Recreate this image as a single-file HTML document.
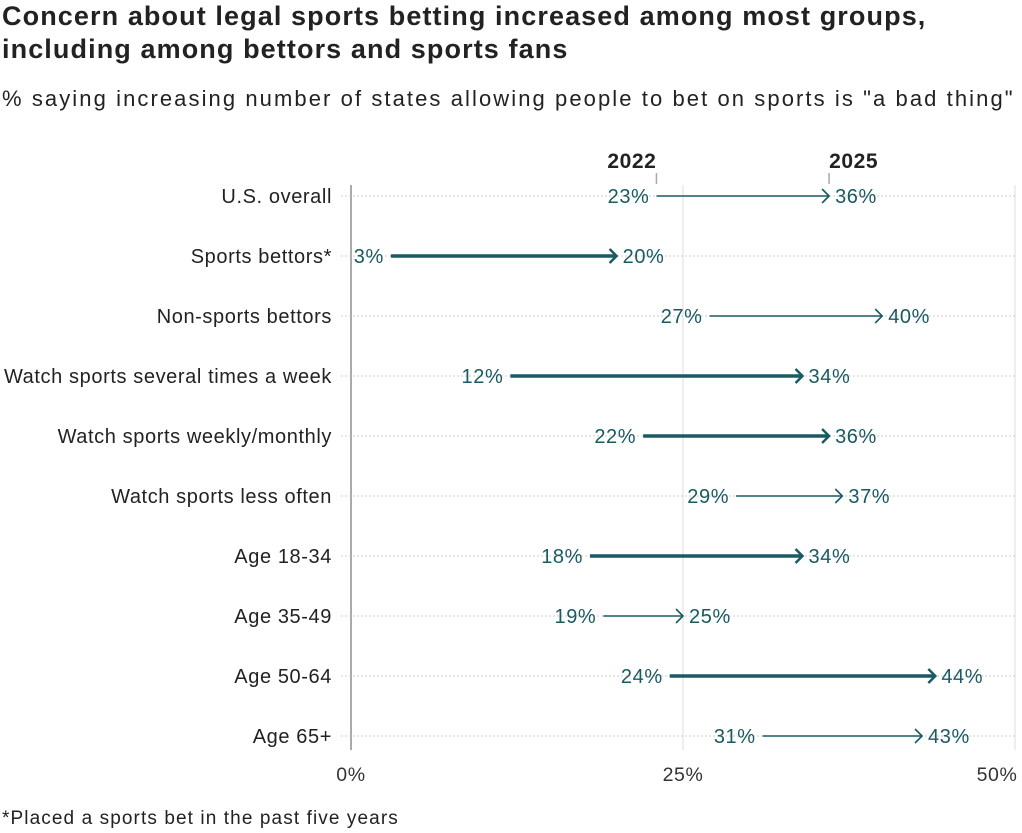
<!DOCTYPE html>
<html><head><meta charset="utf-8"><style>
body{margin:0;background:#fff;width:1022px;height:833px;overflow:hidden;font-family:"Liberation Sans",sans-serif;}
h1{position:absolute;left:2px;top:0;margin:0;font-size:27px;line-height:33px;color:#222;font-weight:bold;width:1020px;letter-spacing:1.1px;white-space:nowrap}
.sub{position:absolute;left:2px;top:86px;font-size:22px;letter-spacing:2.08px;color:#222;margin:0;white-space:nowrap}
.note{position:absolute;left:2px;top:808px;font-size:19px;letter-spacing:1.1px;color:#222}
svg{position:absolute;left:0;top:0}
text{letter-spacing:0.6px}
</style></head><body>
<h1>Concern about legal sports betting increased among most groups,<br>including among bettors and sports fans</h1>
<p class="sub">% saying increasing number of states allowing people to bet on sports is "a bad thing"</p>
<div class="note">*Placed a sports bet in the past five years</div>
<svg id="chart" width="1022" height="833"></svg>
<script>
const categories=["U.S. overall","Sports bettors*","Non-sports bettors","Watch sports several times a week","Watch sports weekly/monthly","Watch sports less often","Age 18-34","Age 35-49","Age 50-64","Age 65+"];
const values2022=[23,3,27,12,22,29,18,19,24,31];
const values2025=[36,20,40,34,36,37,34,25,44,43];
const significant=[false,true,false,true,true,false,true,false,true,false];
const xTicks=[0,25,50];
const xTickLabels=["0%","25%","50%"];
const seriesLabels=["2022","2025"];
const svg=document.getElementById('chart');
const NS='http://www.w3.org/2000/svg';
const C='#1a5a63';
const x=v=>351+v*13.28;
const y=i=>196+i*60;
function mk(t,a,txt){const e=document.createElementNS(NS,t);for(const k in a)e.setAttribute(k,a[k]);if(txt!==undefined)e.textContent=txt;svg.appendChild(e);return e;}
xTicks.forEach((t,i)=>{
 const g=mk('line',{x1:x(t),x2:x(t),y1:185,y2:750,stroke:i==0?'#aaa':'#ddd','stroke-width':i==0?2:1});
 
 
 const l=mk('text',{x:x(t)+(i==2?-18:0),y:781,'font-size':19.5,fill:'#333','text-anchor':'middle'},xTickLabels[i]);
 
 
});
categories.forEach((c,i)=>{
 const d=mk('line',{x1:341,x2:1015,y1:y(i),y2:y(i),stroke:'#ccc','stroke-dasharray':'2,2'});
 
 
 const lab=mk('text',{x:332,y:y(i)+7,'font-size':20,fill:'#222','text-anchor':'end'},c);
 
 
 const a=x(values2022[i]),b=x(values2025[i]),w=significant[i]?3.5:1.6;
 const ln=mk('line',{x1:a,x2:b-1,y1:y(i),y2:y(i),stroke:C,'stroke-width':w});
 
 
 const hd=mk('polyline',{points:`${b-7},${y(i)-7} ${b},${y(i)} ${b-7},${y(i)+7}`,fill:'none',stroke:C,'stroke-width':significant[i]?2.5:1.6});
 
 
 const t1=mk('text',{x:a-7,y:y(i)+7,'font-size':20,fill:C,'text-anchor':'end'},values2022[i]+'%');
 
 
 const t2=mk('text',{x:b+6,y:y(i)+7,'font-size':20,fill:C},values2025[i]+'%');
 
 
});
const a0=x(values2022[0]),b0=x(values2025[0]);
[[a0,'end',seriesLabels[0]],[b0,'start',seriesLabels[1]]].forEach(([px,anc,lab])=>{
 const tk=mk('line',{x1:px,x2:px,y1:173,y2:184,stroke:'#aaa','stroke-width':1.5});
 
 
 const t=mk('text',{x:px,y:168,'font-size':21,'font-weight':'bold',fill:'#222','text-anchor':anc,'letter-spacing':'1px'},lab);
 
 
});
</script>
</body></html>
